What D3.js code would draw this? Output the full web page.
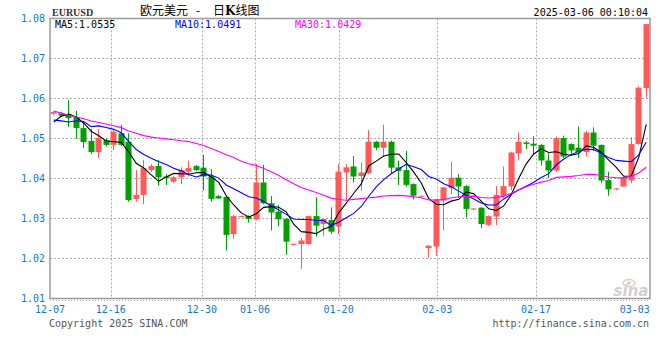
<!DOCTYPE html>
<html>
<head>
<meta charset="utf-8">
<script src="https://cdn.jsdelivr.net/npm/d3@7"></script>
<style>
  body { margin: 0; background: #fff; }
  svg { display: block; }
</style>
</head>
<body>
<svg id="chart" width="660" height="360"></svg>
<script>
// daily bars, EUR/USD
var dates = ["12-07","12-09","12-10","12-11","12-12","12-13","12-14","12-15","12-16","12-17",
  "12-18","12-19","12-20","12-21","12-23","12-24","12-25","12-26","12-27","12-28",
  "12-30","12-31","01-01","01-02","01-03","01-04","01-05","01-06","01-07","01-08",
  "01-09","01-10","01-11","01-13","01-14","01-15","01-16","01-17","01-20","01-21",
  "01-22","01-23","01-24","01-25","01-27","01-28","01-29","01-30","01-31","02-01",
  "02-02","02-03","02-04","02-05","02-06","02-07","02-08","02-10","02-11","02-12",
  "02-13","02-14","02-15","02-16","02-17","02-18","02-19","02-20","02-21","02-22",
  "02-24","02-25","02-26","02-27","02-28","03-01","03-02","03-03","03-04","03-05"];

var opens = [1.0562,1.0563,1.0561,1.0554,1.0526,1.0494,1.0466,1.0496,1.0484,1.0513,
  1.0492,1.0349,1.0359,1.0421,1.0431,1.0405,1.0392,1.0403,1.0417,1.0431,
  1.0427,1.0406,1.0356,1.0354,1.0261,1.0305,1.0306,1.0298,1.0390,1.0338,
  1.0317,1.0299,1.0235,1.0236,1.0236,1.0306,1.0286,1.0296,1.0280,1.0415,
  1.0430,1.0406,1.0413,1.0492,1.0477,1.0492,1.0428,1.0421,1.0386,1.0356,
  1.0226,1.0230,1.0345,1.0376,1.0402,1.0381,1.0323,1.0327,1.0284,1.0305,
  1.0356,1.0380,1.0463,1.0490,1.0487,1.0484,1.0445,1.0420,1.0501,1.0486,
  1.0477,1.0466,1.0515,1.0484,1.0396,1.0373,1.0380,1.0395,1.0486,1.0626];

var highs = [1.0568,1.0566,1.0596,1.0569,1.0539,1.0524,1.0524,1.0500,1.0523,1.0534,
  1.0513,1.0421,1.0446,1.0436,1.0446,1.0411,1.0406,1.0428,1.0444,1.0434,
  1.0459,1.0423,1.0359,1.0356,1.0309,1.0308,1.0308,1.0436,1.0434,1.0356,
  1.0334,1.0301,1.0238,1.0251,1.0307,1.0353,1.0300,1.0328,1.0436,1.0436,
  1.0456,1.0440,1.0521,1.0494,1.0534,1.0495,1.0445,1.0469,1.0388,1.0358,
  1.0233,1.0349,1.0379,1.0442,1.0411,1.0383,1.0326,1.0328,1.0308,1.0381,
  1.0430,1.0467,1.0515,1.0494,1.0506,1.0486,1.0463,1.0505,1.0507,1.0488,
  1.0530,1.0519,1.0528,1.0485,1.0417,1.0376,1.0404,1.0503,1.0630,1.0786];

var lows = [1.0558,1.0554,1.0529,1.0499,1.0476,1.0461,1.0451,1.0480,1.0471,1.0481,
  1.0342,1.0342,1.0336,1.0416,1.0382,1.0384,1.0389,1.0386,1.0405,1.0419,
  1.0370,1.0342,1.0349,1.0220,1.0249,1.0303,1.0290,1.0296,1.0336,1.0270,
  1.0280,1.0209,1.0233,1.0174,1.0235,1.0255,1.0257,1.0261,1.0261,1.0344,
  1.0390,1.0369,1.0411,1.0471,1.0455,1.0413,1.0384,1.0380,1.0348,1.0354,
  1.0202,1.0207,1.0270,1.0361,1.0351,1.0303,1.0321,1.0276,1.0281,1.0284,
  1.0351,1.0371,1.0445,1.0474,1.0459,1.0432,1.0401,1.0417,1.0451,1.0457,
  1.0451,1.0455,1.0469,1.0388,1.0357,1.0371,1.0379,1.0388,1.0485,1.0602];

var closes = [1.0566,1.0557,1.0551,1.0526,1.0491,1.0466,1.0501,1.0484,1.0517,1.0484,
  1.0346,1.0359,1.0426,1.0431,1.0403,1.0401,1.0403,1.0421,1.0426,1.0421,
  1.0405,1.0349,1.0350,1.0259,1.0306,1.0306,1.0299,1.0390,1.0338,1.0315,
  1.0298,1.0242,1.0236,1.0245,1.0306,1.0282,1.0299,1.0267,1.0417,1.0428,
  1.0405,1.0415,1.0492,1.0477,1.0492,1.0427,1.0419,1.0384,1.0357,1.0357,
  1.0232,1.0348,1.0378,1.0402,1.0380,1.0324,1.0325,1.0286,1.0306,1.0359,
  1.0381,1.0465,1.0492,1.0486,1.0482,1.0445,1.0420,1.0501,1.0455,1.0470,
  1.0466,1.0515,1.0482,1.0395,1.0373,1.0375,1.0403,1.0486,1.0627,1.0786];

// closes of the sessions before the window, only used to start the averages
var priorCloses = [1.0718,1.0719,1.0654,1.0622,1.0629,1.0612,1.0604,1.0640,1.0630,1.0592,
  1.0541,1.0596,1.0542,1.0472,1.0468,1.0468,1.0496,1.0487,1.0565,1.0551,
  1.0577,1.0577,1.0497,1.0512,1.0592,1.0482,1.0526,1.0561,1.0570];

var yTicks = [1.01,1.02,1.03,1.04,1.05,1.06,1.07,1.08];
var xTickDates = ["12-07","12-16","12-30","01-06","01-20","02-03","02-17","03-03"];

var maPeriods = [5,10,30];
var maValues = ["1.0535","1.0491","1.0429"];
var maColors = ["#000000","#0000ff","#ff00ff"];

var upColor = "#ff5959", downColor = "#00a000";
var mono = "'DejaVu Sans Mono', 'Liberation Mono', monospace";
var blue = "#1479c9";

var plotL = 50, plotR = 650, plotT = 18.5, plotB = 298.5;

var svg = d3.select("#chart");

var x = d3.scaleBand().domain(dates).range([plotL, plotR])
  .paddingInner(0.24).paddingOuter(0.12);
var xt = d3.scalePoint().domain(dates).range([plotL, plotR]);
var y = d3.scaleLinear().domain([1.01, 1.08]).range([plotB, plotT]);

function cx(d) { return x(d) + x.bandwidth() / 2; }

// grid
var grid = svg.append("g").attr("stroke", "#aaa").attr("stroke-dasharray", "2,2");
grid.selectAll(".hg").data(yTicks.slice(1, -1)).enter().append("line")
  .attr("x1", plotL).attr("x2", plotR)
  .attr("y1", function(d) { return y(d); }).attr("y2", function(d) { return y(d); });
grid.selectAll(".vg").data(xTickDates.slice(1, -1)).enter().append("line")
  .attr("y1", plotT).attr("y2", plotB)
  .attr("x1", function(d) { return Math.round(xt(d)) + 0.5; })
  .attr("x2", function(d) { return Math.round(xt(d)) + 0.5; });
svg.append("line").attr("x1", plotL).attr("x2", plotR)
  .attr("y1", plotB + 2).attr("y2", plotB + 2)
  .attr("stroke", "#aaa").attr("stroke-dasharray", "1,2");

// watermark
var wm = svg.append("g").attr("opacity", 0.55);
wm.append("ellipse").attr("cx", 629).attr("cy", 283).attr("rx", 6).attr("ry", 3.5)
  .attr("fill", "none").attr("stroke", "#d99").attr("stroke-width", 1.5);
wm.append("circle").attr("cx", 629).attr("cy", 283).attr("r", 1.5).attr("fill", "#b88");
wm.append("text").attr("x", 631).attr("y", 296).attr("text-anchor", "middle")
  .attr("font-family", "'DejaVu Sans', sans-serif").attr("font-weight", "bold")
  .attr("font-style", "italic").attr("font-size", 15).attr("fill", "#aaa").text("sina");

// candles
var idx = d3.range(dates.length);
var bw = Math.round(x.bandwidth());
function isUp(i) { return closes[i] >= opens[i]; }
var candles = svg.append("g").selectAll("g").data(idx).enter().append("g")
  .attr("fill", function(i) { return isUp(i) ? upColor : downColor; })
  .attr("stroke", function(i) { return isUp(i) ? upColor : downColor; });

candles.append("line")
  .attr("x1", function(i) { return Math.floor(cx(dates[i])) + 0.5; })
  .attr("x2", function(i) { return Math.floor(cx(dates[i])) + 0.5; })
  .attr("y1", function(i) { return y(highs[i]); })
  .attr("y2", function(i) { return y(lows[i]); });

candles.append("rect")
  .attr("stroke", "none")
  .attr("x", function(i) { return Math.floor(cx(dates[i])) - Math.floor(bw / 2) + 0.5; })
  .attr("width", bw)
  .attr("y", function(i) { return y(Math.max(opens[i], closes[i])); })
  .attr("height", function(i) { return Math.max(1, Math.abs(y(opens[i]) - y(closes[i]))); });

// moving averages
var allCloses = priorCloses.concat(closes);
var off = priorCloses.length;
maPeriods.forEach(function(n, k) {
  var vals = idx.map(function(i) {
    return d3.mean(allCloses.slice(i + off - n + 1, i + off + 1));
  });
  var line = d3.line()
    .x(function(v, i) { return cx(dates[i]); })
    .y(function(v) { return y(v); });
  svg.append("path").datum(vals)
    .attr("fill", "none").attr("stroke", maColors[k]).attr("stroke-width", 1.1)
    .attr("d", line);
});

// frame
svg.append("rect").attr("x", plotL).attr("y", plotT)
  .attr("width", plotR - plotL).attr("height", plotB - plotT)
  .attr("fill", "none").attr("stroke", "#9a9a9a").attr("stroke-width", 1.5);

// axis labels
svg.append("g").selectAll("text").data(yTicks).enter().append("text")
  .attr("x", plotL - 5).attr("y", function(d) { return y(d) + 3; })
  .attr("text-anchor", "end").attr("font-family", mono).attr("font-size", 10)
  .attr("fill", blue).text(function(d) { return d3.format(".2f")(d); });

svg.append("g").selectAll("text").data(xTickDates).enter().append("text")
  .attr("x", function(d) { return xt(d); }).attr("y", 313)
  .attr("text-anchor", "middle").attr("font-family", mono).attr("font-size", 10)
  .attr("fill", blue).text(function(d) { return d; });

// legend
svg.append("g").selectAll("text").data(maPeriods).enter().append("text")
  .attr("x", function(d, k) { return plotL + 5 + k * 120; }).attr("y", 27.5)
  .attr("font-family", mono).attr("font-size", 10)
  .attr("fill", function(d, k) { return maColors[k]; })
  .text(function(d, k) { return "MA" + d + ":" + maValues[k]; });

// header
svg.append("text").attr("x", 52).attr("y", 16)
  .attr("font-family", "'Liberation Serif', 'DejaVu Serif', serif").attr("font-weight", "bold")
  .attr("font-size", 10).attr("fill", "#333").text("EURUSD");
var cjk = "'Noto Sans CJK SC', sans-serif";
svg.append("text").attr("x", 140).attr("y", 14.5).attr("font-family", cjk)
  .attr("font-size", 12).attr("fill", "#000").text("欧元美元");
svg.append("text").attr("x", 196).attr("y", 14.5).attr("font-family", cjk)
  .attr("font-size", 12).attr("fill", "#000").text("-");
svg.append("text").attr("x", 213).attr("y", 14.5).attr("font-family", cjk)
  .attr("font-size", 12).attr("fill", "#000")
  .html("日<tspan font-weight='bold' font-family=\"'DejaVu Serif', serif\">K</tspan>线图");
svg.append("text").attr("x", 648).attr("y", 15.5).attr("text-anchor", "end")
  .attr("font-family", mono).attr("font-size", 10).attr("fill", "#000")
  .text("2025-03-06 00:10:04");

// footer
svg.append("text").attr("x", 49).attr("y", 327)
  .attr("font-family", mono).attr("font-size", 10).attr("fill", "#555")
  .text("Copyright 2025 SINA.COM");
svg.append("text").attr("x", 649).attr("y", 327).attr("text-anchor", "end")
  .attr("font-family", mono).attr("font-size", 10).attr("fill", "#555")
  .text("http://finance.sina.com.cn");
</script>
</body>
</html>
